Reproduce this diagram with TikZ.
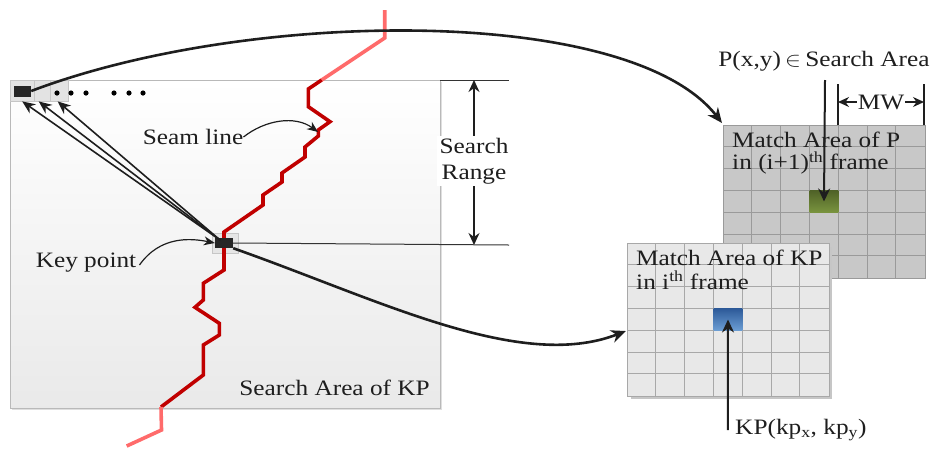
\documentclass[tikz,border=0pt]{standalone}
\usepackage{fontspec}
\setmainfont{Liberation Serif}
\usetikzlibrary{arrows.meta}
\definecolor{seamdark}{HTML}{C00000}
\definecolor{seamlight}{HTML}{FF6B6B}
\definecolor{gridback}{HTML}{C8C8C8}
\definecolor{gridbackline}{HTML}{9A9A9A}
\definecolor{gridfront}{HTML}{E8E8E8}
\definecolor{gridfrontline}{HTML}{A8A8A8}
\definecolor{inkline}{HTML}{1E1E1E}
\definecolor{olivetop}{HTML}{4F6228}
\definecolor{olivebot}{HTML}{7A943E}
\definecolor{bluetop}{HTML}{2D5A99}
\definecolor{bluebot}{HTML}{6C9ED4}
\begin{document}
\begin{tikzpicture}[x=1pt,y=-1pt,
  txt/.style={font=\fontsize{22}{26}\selectfont, inner sep=0pt, xscale=1.15, text=inkline},
  bigarrow/.style={draw=inkline, line width=2.6pt, -{Stealth[length=15pt,width=13pt]}},
  thinarrow/.style={draw=inkline, line width=1.6pt, -{Stealth[length=13pt,width=11pt]}},
  labelarrow/.style={draw=inkline, line width=1.2pt, -{Stealth[length=11pt,width=9pt]}},
  seamline/.style={line width=3.6pt, line join=miter},
  cellbox/.style={anchor=north west, inner sep=0pt, minimum width=28.8pt, minimum height=21.8pt},
  gridbox/.style={anchor=north west, inner sep=0pt, minimum width=201.6pt, minimum height=152.6pt}
]
\useasboundingbox (0,0) rectangle (936,448);

% search area
\fill[gray!25] (12,82) rectangle (442,410);
\node[draw=gray!55, top color=white, bottom color=gray!17, minimum width=430pt, minimum height=328pt, anchor=north west, inner sep=0pt] (sa) at (10,80) {};

% small cells top-left
\node[draw=gray!45, fill=gray!22, minimum width=21pt, minimum height=21pt, anchor=north west, inner sep=0pt] (c3) at (47,80) {};
\node[draw=gray!45, fill=gray!22, minimum width=21pt, minimum height=21pt, anchor=north west, inner sep=0pt] (c2) at (29,80) {};
\node[draw=gray!45, fill=gray!22, minimum width=24pt, minimum height=21pt, anchor=north west, inner sep=0pt] (c1) at (10,80) {};
\node[fill=black!85, minimum width=17pt, minimum height=11pt, inner sep=0pt] (sq) at (22.5,91) {};
\foreach \x [count=\k] in {57,71,86,114,129,143}
  \node[circle, fill=black, inner sep=0pt, minimum size=5.2pt] (dot\k) at (\x,93) {};

% key point box
\node[draw=gray!45, fill=gray!20, minimum width=26pt, minimum height=20pt, inner sep=0pt] (kpbox) at (225,243) {};

% seam line
\draw[seamline, seamlight] (384.7,10) -- (384.7,38) -- (321.7,80);
\draw[seamline, seamdark] (321.7,80) -- (308.3,89) -- (308.3,106.7) -- (330,121.7) -- (318.3,130) -- (318.3,136)
  -- (305,147) -- (305,157) -- (282,173) -- (282,182) -- (263,195) -- (263,205) -- (224,232) -- (224,270)
  -- (203.3,283.3) -- (203.3,300) -- (195,307.3) -- (219.3,323.3) -- (219.3,335) -- (203.3,345) -- (203.3,375) -- (161,407);
\draw[seamline, seamlight] (161,407) -- (161.5,430) -- (126.7,446);

\node[fill=black!85, minimum width=18pt, minimum height=10pt, inner sep=0pt] (kp) at (224,243) {};

% arrows from key point to top-left cells
\coordinate (kpsrc) at (220,240);
\draw[thinarrow] (kpsrc) -- (c1.south);
\draw[thinarrow] (kpsrc) -- ([xshift=-1pt]c2.south);
\draw[thinarrow] (kpsrc) -- (c3.south);

% search range
\coordinate (srtop) at (509,80);
\coordinate (srbot) at (509,245);
\coordinate (srA) at (474,80);
\coordinate (srB) at (474,245);
\draw[gray!40!black, line width=1pt] (sa.north east) -- (srtop);
\draw[gray!40!black, line width=1pt] (kp.east) -- (srbot);
\draw[draw=inkline, line width=1.4pt, {Stealth[length=12pt,width=11pt]}-{Stealth[length=12pt,width=11pt]}] (srA) -- (srB);
\node[txt, fill=white, align=center, inner xsep=2pt, inner ysep=2pt] (srlbl) at (474,161) {Search\\Range};

% labels in the search area
\node[txt] (seamlbl) at (193,137) {Seam line};
\coordinate (seamtip) at (318,132);
\draw[labelarrow] (seamlbl.east) .. controls (265,120) and (295,115) .. (seamtip);

\node[txt] (kplbl) at (86,263) {Key point};
\draw[labelarrow] ([xshift=3pt,yshift=-2pt]kplbl.east) .. controls (160,236) and (190,238) .. (kp.west);

\node[txt, anchor=east] (salbl) at (430,388) {Search Area of KP};

% back grid (P)
\node[gridbox, fill=gridback, draw=gridbackline] (gridP) at (723,125) {};
\foreach \i in {1,...,6} {
  \draw[gridbackline, line width=0.9pt] (723+\i*28.8,125) -- (723+\i*28.8,277.6);
  \draw[gridbackline, line width=0.9pt] (723,125+\i*21.8) -- (924.6,125+\i*21.8);
}
\node[cellbox, top color=olivetop, bottom color=olivebot] (pcell) at (809.4,190.4) {};
\node[txt, anchor=west] (ptxt1) at (732,140) {Match Area of P};
\node[txt, anchor=west] (ptxt2) at (732,163) {in (i+1)\textsuperscript{th} frame};

\node[txt] (plbl) at (824,61) {P(x,y)\,$\in$\,Search Area};
\coordinate (parr) at (825,80);
\draw[draw=inkline, line width=2pt, -{Stealth[length=13pt,width=12pt]}] (parr) -- (pcell.center);

\coordinate (mwL1) at (838,84);
\coordinate (mwL2) at (838,125);
\coordinate (mwR1) at (924,84);
\coordinate (mwR2) at (924,125);
\coordinate (mwA) at (838,102);
\coordinate (mwB) at (924,102);
\draw[draw=inkline, line width=1.6pt] (mwL1) -- (mwL2);
\draw[draw=inkline, line width=1.6pt] (mwR1) -- (mwR2);
\draw[draw=inkline, line width=1.4pt, {Stealth[length=11pt,width=10pt]}-{Stealth[length=11pt,width=10pt]}] (mwA) -- (mwB);
\node[txt, fill=white, inner xsep=1pt] (mw) at (881,102) {MW};

% front grid (KP)
\fill[gray!45] (631,247) rectangle (832,399);
\node[gridbox, fill=gridfront, draw=gridfrontline] (gridKP) at (627,243) {};
\foreach \i in {1,...,6} {
  \draw[gridfrontline, line width=0.9pt] (627+\i*28.8,243) -- (627+\i*28.8,395.6);
  \draw[gridfrontline, line width=0.9pt] (627,243+\i*21.8) -- (828.6,243+\i*21.8);
}
\node[cellbox, top color=bluetop, bottom color=bluebot] (kpcell) at (713.4,308.4) {};
\node[txt, anchor=west] (kptxt1) at (636,258) {Match Area of KP};
\node[txt, anchor=west] (kptxt2) at (636,280) {in i\textsuperscript{th} frame};

\node[txt, anchor=west] (kplabel) at (735,430) {KP(kp\textsubscript{x}, kp\textsubscript{y})};
\coordinate (kparr) at (727.8,430);
\draw[draw=inkline, line width=2pt, -{Stealth[length=13pt,width=12pt]}] (kparr) -- (kpcell.center);

% big curved arrows
\coordinate (ptip) at (722,123);
\draw[bigarrow] (sq.east) .. controls (250,8) and (630,5) .. (ptip);
\coordinate (kptip) at (626,331);
\draw[bigarrow] (kp.south east) .. controls (380,300) and (520,372) .. (kptip);

\end{tikzpicture}
\end{document}
